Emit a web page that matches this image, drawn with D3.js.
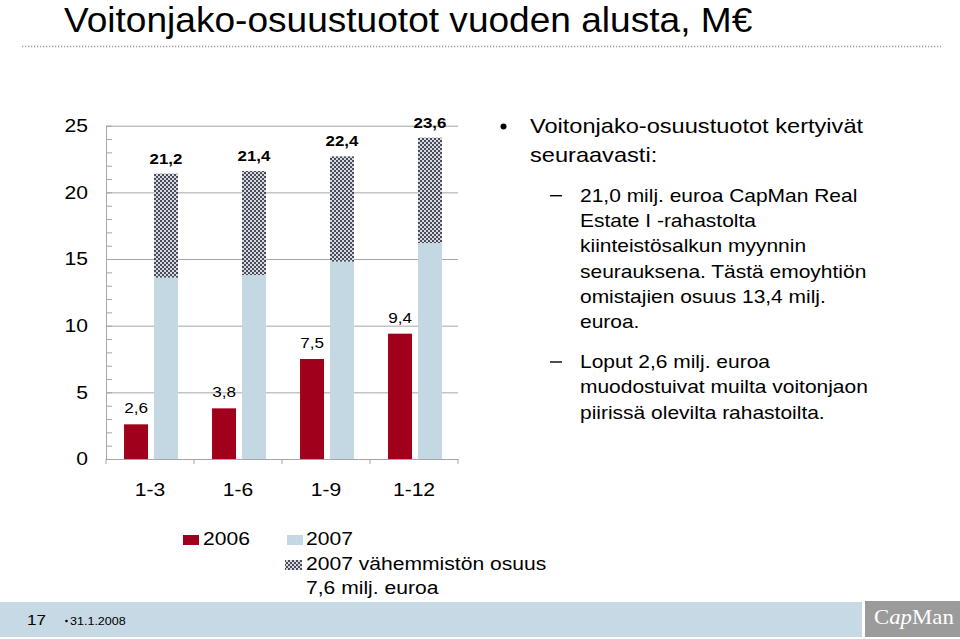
<!DOCTYPE html>
<html>
<head>
<meta charset="utf-8">
<script src="https://cdn.jsdelivr.net/npm/d3@7.9.0/dist/d3.min.js"></script>
<style>
  body { margin: 0; background: #fff; }
  svg { display: block; font-family: "Liberation Sans", Arial, sans-serif; }
</style>
</head>
<body>
<svg id="chart" width="960" height="639"></svg>
<script>
// data
const categories = ['1-3', '1-6', '1-9', '1-12'];
const series = ['2006', '2007'];
const values2006 = [2.6, 3.8, 7.5, 9.4];
const values2007 = [13.6, 13.8, 14.8, 16.2];
const minority2007 = [7.8, 7.8, 7.9, 7.9];
const totalLabels = ['21,2', '21,4', '22,4', '23,6'];
const yTicks = [0, 5, 10, 15, 20, 25];

const bulletLines = ['Voitonjako-osuustuotot kertyivät', 'seuraavasti:'];
const sub1Lines = ['21,0 milj. euroa CapMan Real', 'Estate I -rahastolta', 'kiinteistösalkun myynnin',
  'seurauksena. Tästä emoyhtiön', 'omistajien osuus 13,4 milj.', 'euroa.'];
const sub2Lines = ['Loput 2,6 milj. euroa', 'muodostuivat muilta voitonjaon', 'piirissä olevilta rahastoilta.'];

const RED = '#a0001c', BLUE = '#c4d8e4', GRID = '#a6a6a6';
const SX = 1.14; // slide was squeezed to 3:2, text looks wider

const svg = d3.select('#chart');
svg.append('rect').attr('width', 960).attr('height', 639).attr('fill', '#fff');

// hatch for the minority share
const pat = svg.append('defs').append('pattern')
  .attr('id', 'hatch').attr('patternUnits', 'userSpaceOnUse')
  .attr('width', 4).attr('height', 4);
pat.append('rect').attr('width', 4).attr('height', 4).attr('fill', '#d8dae0');
pat.append('rect').attr('width', 2).attr('height', 2).attr('fill', '#474c5d');
pat.append('rect').attr('x', 2).attr('y', 2).attr('width', 2).attr('height', 2).attr('fill', '#474c5d');

function txt(parent, x, y, s, size, opts = {}) {
  let t = parent.append('text')
    .attr('transform', `translate(${x},${y}) scale(${opts.sx || SX},1)`)
    .attr('font-size', size)
    .attr('fill', opts.fill || '#000')
    .text(s);
  if (opts.anchor) t.attr('text-anchor', opts.anchor);
  if (opts.weight) t.attr('font-weight', opts.weight);
  if (opts.family) t.attr('font-family', opts.family);
  return t;
}

// title
txt(svg, 64, 32, 'Voitonjako-osuustuotot vuoden alusta, M€', 34.5, { sx: 1.075 });
svg.append('line').attr('x1', 22).attr('x2', 941).attr('y1', 46.5).attr('y2', 46.5)
  .attr('stroke', '#a0a0a0').attr('stroke-width', 1.3).attr('stroke-dasharray', '1.3,1.7');

// scales
let y = d3.scaleLinear().domain([0, 25]).range([459, 125.7]);
let x = d3.scaleBand().domain(categories).range([106, 458]);
let xs = d3.scaleBand().domain(series).range([0, x.bandwidth()])
  .paddingInner(0.2).paddingOuter(0.567).align(0.53);

// gridlines
let grid = svg.append('g').attr('transform', 'translate(106,0)')
  .call(d3.axisLeft(y).tickValues(yTicks.slice(1)).tickSize(-(458 - 106)).tickFormat(''));
grid.select('.domain').remove();
grid.selectAll('line').attr('stroke', GRID);

// minor ticks
let minor = svg.append('g').attr('transform', 'translate(106,0)')
  .call(d3.axisRight(y).tickValues(d3.range(0, 26)).tickSize(6).tickFormat(''));
minor.select('.domain').remove();
minor.selectAll('line').attr('stroke', GRID);

// y axis
let yAxis = svg.append('g').attr('transform', 'translate(106,0)')
  .call(d3.axisLeft(y).tickValues(yTicks).tickSize(0).tickSizeOuter(0));
yAxis.select('.domain').attr('stroke', GRID);
yAxis.selectAll('text')
  .attr('x', 0)
  .attr('transform', `translate(-18,0) scale(${SX},1)`)
  .attr('font-size', 18.5).attr('font-family', null).attr('fill', '#000');

// x axis
let xAxis = svg.append('g').attr('transform', 'translate(0,459)')
  .call(d3.axisBottom(x).tickSize(0).tickSizeOuter(0));
xAxis.select('.domain').attr('stroke', GRID);
xAxis.selectAll('text')
  .attr('y', 0).attr('dy', null)
  .attr('transform', `translate(0,37) scale(${SX},1)`)
  .attr('font-size', 18.5).attr('font-family', null).attr('fill', '#000');

let bounds = categories.map((c) => x(c)).concat([x.range()[1]]);
svg.append('g').selectAll('line').data(bounds).join('line')
  .attr('x1', (d) => d).attr('x2', (d) => d)
  .attr('y1', 459).attr('y2', 464)
  .attr('stroke', GRID);

// bars
let bars = svg.append('g');
categories.forEach((c, i) => {
  let xr = x(c) + xs('2006');
  let xb = x(c) + xs('2007');
  let w = xs.bandwidth();

  bars.append('rect').attr('x', xr).attr('width', w)
    .attr('y', y(values2006[i])).attr('height', y(0) - y(values2006[i]))
    .attr('fill', RED);

  bars.append('rect').attr('x', xb).attr('width', w)
    .attr('y', y(values2007[i])).attr('height', y(0) - y(values2007[i]))
    .attr('fill', BLUE);

  let top = values2007[i] + minority2007[i];
  bars.append('rect').attr('x', xb).attr('width', w)
    .attr('y', y(top)).attr('height', y(values2007[i]) - y(top))
    .attr('fill', 'url(#hatch)');

  txt(bars, xr + w / 2, y(values2006[i]) - 11, String(values2006[i]).replace('.', ','), 15, { anchor: 'middle' });
  txt(bars, xb + w / 2, y(top) - 10, totalLabels[i], 14.8, { anchor: 'middle', weight: 'bold' });
});

// legend
let legend = svg.append('g');
legend.append('rect').attr('x', 183).attr('y', 535).attr('width', 16).attr('height', 10).attr('fill', RED);
txt(legend, 203, 544.5, series[0], 18.5);
legend.append('rect').attr('x', 287).attr('y', 535).attr('width', 16).attr('height', 10).attr('fill', BLUE);
txt(legend, 306, 544.5, series[1], 18.5);
legend.append('rect').attr('x', 285).attr('y', 560).attr('width', 17).attr('height', 10).attr('fill', 'url(#hatch)');
txt(legend, 306, 570, '2007 vähemmistön osuus', 18.5);
txt(legend, 306, 593.5, '7,6 milj. euroa', 18.5);

// bullet text on the right
let notes = svg.append('g');
notes.append('circle').attr('cx', 503.5).attr('cy', 126.5).attr('r', 3).attr('fill', '#000');
bulletLines.forEach((s, i) => txt(notes, 530, 133 + i * 28.7, s, 20.7));
[[sub1Lines, 201.7], [sub2Lines, 368]].forEach(([lines, y0]) => {
  notes.append('line').attr('x1', 550).attr('x2', 562).attr('y1', y0 - 6).attr('y2', y0 - 6)
    .attr('stroke', '#000').attr('stroke-width', 1.4);
  lines.forEach((s, i) => txt(notes, 580, y0 + i * 25.3, s, 18.4));
});

// footer
svg.append('rect').attr('x', 0).attr('y', 602).attr('width', 862).attr('height', 35).attr('fill', '#c6d9e4');
txt(svg, 27, 625, '17', 15);
svg.append('circle').attr('cx', 66.5).attr('cy', 621).attr('r', 1.3).attr('fill', '#000');
txt(svg, 70, 625, '31.1.2008', 11);
svg.append('rect').attr('x', 865).attr('y', 601).attr('width', 95).attr('height', 36).attr('fill', '#9b9b9b');
let logo = txt(svg, 874, 624, '', 20, { fill: '#fff', family: '"Liberation Serif", "Times New Roman", serif' });
logo.append('tspan').text('C');
logo.append('tspan').attr('font-style', 'italic').text('ap');
logo.append('tspan').text('Man');
</script>
</body>
</html>
